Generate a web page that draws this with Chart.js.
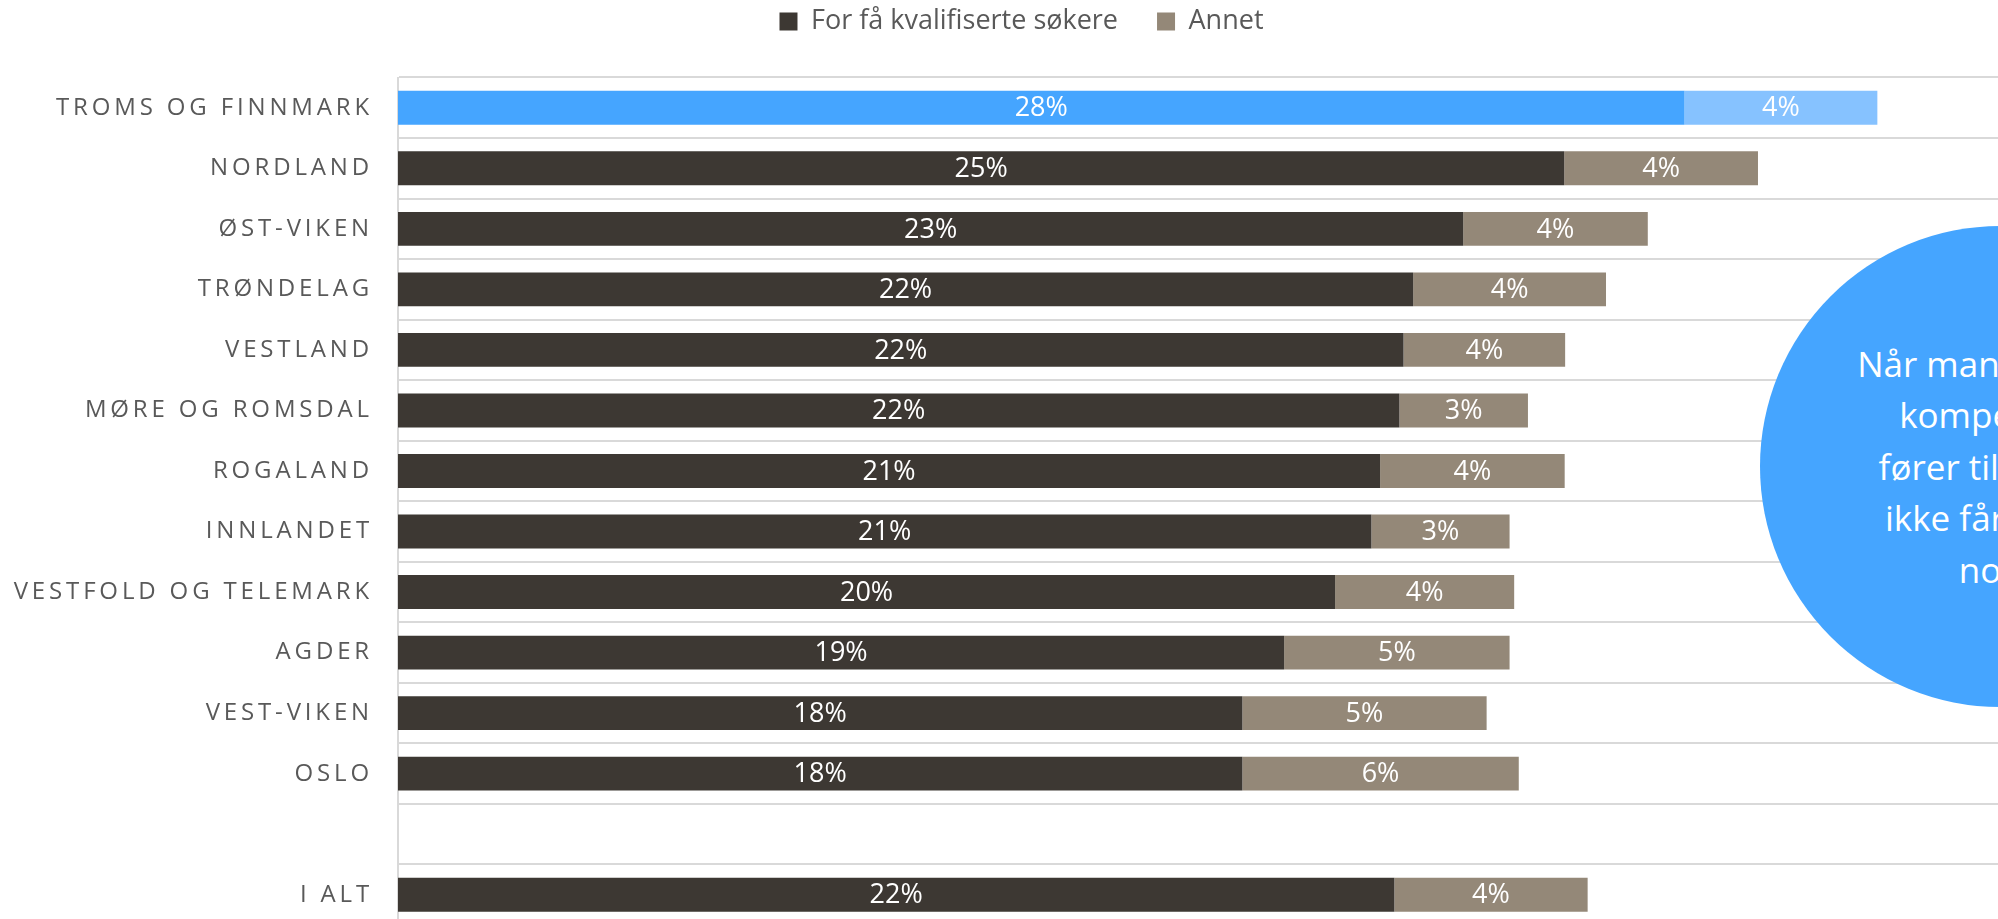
<!DOCTYPE html>
<html lang="no">
<head>
<meta charset="utf-8">
<title>For få kvalifiserte søkere</title>
<script src="https://cdn.jsdelivr.net/npm/chart.js@4/dist/chart.umd.min.js"></script>
<style>
  html, body { margin: 0; padding: 0; background: #ffffff; }
  body { width: 1998px; height: 919px; overflow: hidden; position: relative; }
  #c { position: absolute; left: 0; top: 0; }
  #bubble {
    position: absolute; left: 1760px; top: 226px; width: 481px; height: 481px;
    border-radius: 50%; background: #45A5FF; color: #ffffff;
    font-family: "Open Sans", sans-serif; font-size: 35px; line-height: 51.5px;
    display: flex; align-items: center; justify-content: center; text-align: center;
    z-index: 2;
  }
</style>
</head>
<body>
<canvas id="c" width="2005" height="925"></canvas>
<div id="bubble"><div>Når man mangler<br>kompetanse<br>fører til at man<br>ikke får ansatt<br>noen</div></div>
<script>
// ---- data ----
const categories = [
  'TROMS OG FINNMARK', 'NORDLAND', 'ØST-VIKEN', 'TRØNDELAG', 'VESTLAND',
  'MØRE OG ROMSDAL', 'ROGALAND', 'INNLANDET', 'VESTFOLD OG TELEMARK',
  'AGDER', 'VEST-VIKEN', 'OSLO', '', 'I ALT'
];
const seriesNames = ['For få kvalifiserte søkere', 'Annet'];
const forFaaKvalifiserte = [28.02, 25.40, 23.20, 22.11, 21.90, 21.81, 21.39, 21.20, 20.41, 19.30, 18.39, 18.39, null, 21.70];
const annet = [4.20, 4.22, 4.02, 4.20, 3.52, 2.80, 4.02, 3.01, 3.90, 4.91, 5.32, 6.02, null, 4.21];
const highlightedCategory = 'TROMS OG FINNMARK';

// ---- styles ----
const DARK = '#3D3833', TAN = '#948878', BLUE = '#45A5FF', LIGHTBLUE = '#86C2FF';
const GRID = '#D9D9D9', TEXT = '#595959';
const seriesColors = [DARK, TAN];

Chart.defaults.font.family = '"Open Sans", sans-serif';

const colorFor = (base, hi) => (ctx) =>
  (ctx.type === 'data' && categories[ctx.dataIndex] === highlightedCategory) ? hi : base;

const legendTweak = {
  id: 'legendTweak',
  beforeInit(chart) {
    const lg = chart.legend;
    if (!lg) return;
    const fit = lg.fit;
    lg.fit = function () { fit.call(this); this.height = 77.5; };
  },
  afterLayout(chart) {
    if (chart.legend) { chart.legend.top = -31; chart.legend.left = 38; }
  }
};

const spacedLabels = {
  id: 'spacedLabels',
  beforeDraw(chart) {
    const s = chart.scales.y;
    if (s && !s._spaced) {
      const orig = s.drawLabels;
      s.drawLabels = function (area) {
        const ctx = this.ctx;
        const prev = ctx.letterSpacing;
        ctx.letterSpacing = '3.85px';
        orig.call(this, area);
        ctx.letterSpacing = prev || '0px';
      };
      s._spaced = true;
    }
  }
};

const valueLabels = {
  id: 'valueLabels',
  afterDatasetsDraw(chart) {
    const ctx = chart.ctx;
    ctx.save();
    ctx.font = '27px "Open Sans", sans-serif';
    ctx.fillStyle = '#ffffff';
    ctx.textAlign = 'center';
    ctx.textBaseline = 'middle';
    chart.data.datasets.forEach((ds, di) => {
      const meta = chart.getDatasetMeta(di);
      meta.data.forEach((bar, i) => {
        const v = ds.data[i];
        if (v === null || v === undefined) return;
        const p = bar.getProps(['x', 'y', 'base'], true);
        ctx.fillText(Math.round(v) + '%', (p.x + p.base) / 2, p.y + 1);
      });
    });
    ctx.restore();
  }
};

new Chart(document.getElementById('c'), {
  type: 'bar',
  data: {
    labels: categories,
    datasets: [
      {
        label: seriesNames[0],
        data: forFaaKvalifiserte,
        backgroundColor: colorFor(DARK, BLUE),
        borderWidth: 0,
        barPercentage: 0.56,
        categoryPercentage: 1
      },
      {
        label: seriesNames[1],
        data: annet,
        backgroundColor: colorFor(TAN, LIGHTBLUE),
        borderWidth: 0,
        barPercentage: 0.56,
        categoryPercentage: 1
      }
    ]
  },
  options: {
    indexAxis: 'y',
    responsive: false,
    animation: false,
    devicePixelRatio: 1,
    layout: { padding: 0 },
    plugins: {
      tooltip: { enabled: false },
      legend: {
        display: true,
        position: 'top',
        align: 'center',
        labels: {
          boxWidth: 18,
          boxHeight: 18,
          padding: 39,
          color: TEXT,
          font: { size: 27 },
          generateLabels(chart) {
            const items = Chart.defaults.plugins.legend.labels.generateLabels(chart);
            items.forEach((it, i) => {
              it.fillStyle = seriesColors[i];
              it.strokeStyle = seriesColors[i];
              it.lineWidth = 0;
            });
            return items;
          }
        }
      }
    },
    scales: {
      x: {
        stacked: true,
        display: false,
        min: 0,
        max: 35
      },
      y: {
        stacked: true,
        afterFit(scale) {
          scale.width = 398;
          scale.paddingTop = 0;
          scale.paddingBottom = 0;
        },
        grid: { color: GRID, lineWidth: 2, drawTicks: false, offset: true },
        border: { display: true, color: GRID, width: 2 },
        ticks: { color: TEXT, font: { size: 24 }, padding: 25, autoSkip: false }
      }
    }
  },
  plugins: [legendTweak, spacedLabels, valueLabels]
});
</script>
</body>
</html>
